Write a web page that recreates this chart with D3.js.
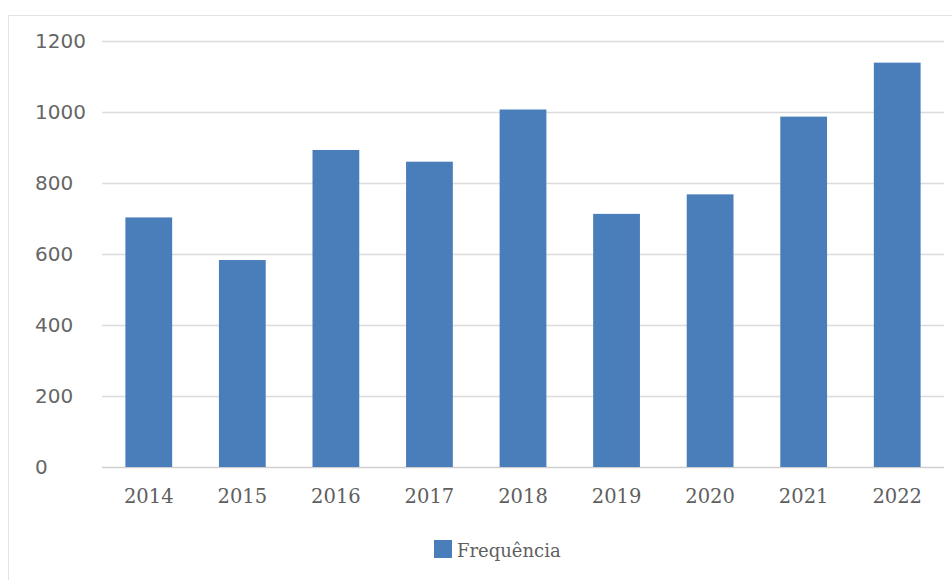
<!DOCTYPE html>
<html><head><meta charset="utf-8">
<script src="https://cdn.jsdelivr.net/npm/d3@7"></script>
<style>html,body{margin:0;padding:0;background:#fff;overflow:hidden;}</style>
</head><body>
<script>
const years = ["2014","2015","2016","2017","2018","2019","2020","2021","2022"];
const values = [703, 583, 893, 860, 1007, 713, 768, 987, 1139];
const yTicks = [0, 200, 400, 600, 800, 1000, 1200];
const seriesName = "Frequência";

const W = 952, H = 580;
const svg = d3.select("body").append("svg").attr("width", W).attr("height", H).style("display", "block");

// chart frame
svg.append("rect").attr("x", 8.5).attr("y", 15.5).attr("width", W + 10).attr("height", H + 10)
  .attr("fill", "#fff").attr("stroke", "#e3e3e3").attr("stroke-width", 1);

const plotLeft = 102, plotRight = 944, plotTop = 41, plotBottom = 467;
const x = d3.scaleBand().domain(years).range([plotLeft, plotRight]).paddingInner(0.5).paddingOuter(0.25);
const y = d3.scaleLinear().domain([0, 1200]).range([plotBottom, plotTop]);

// gridlines
svg.append("g").selectAll("line").data(yTicks).join("line")
  .attr("x1", plotLeft).attr("x2", plotRight)
  .attr("y1", d => Math.round(y(d)) + 0.5).attr("y2", d => Math.round(y(d)) + 0.5)
  .attr("stroke", d => d === 0 ? "#cfcfcf" : "#dcdcdc").attr("stroke-width", 1.5);

// y labels
svg.append("g").selectAll("text").data(yTicks).join("text")
  .attr("x", 35).attr("y", d => y(d) + 7)
  .attr("font-family", "DejaVu Sans").attr("font-size", 20)
  .attr("fill", "#666666").text(d => d);

// bars
svg.append("g").selectAll("rect").data(values).join("rect")
  .attr("x", (d, i) => x(years[i])).attr("width", x.bandwidth())
  .attr("y", d => y(d)).attr("height", d => y(0) - y(d))
  .attr("fill", "#4a7ebb");

// x labels
svg.append("g").selectAll("text").data(years).join("text")
  .attr("x", d => x(d) + x.bandwidth() / 2).attr("y", 503)
  .attr("text-anchor", "middle")
  .attr("font-family", "DejaVu Serif").attr("font-size", 19.5)
  .attr("fill", "#5f5f5f").text(d => d);

// legend
svg.append("rect").attr("x", 434).attr("y", 540).attr("width", 18).attr("height", 18).attr("fill", "#4a7ebb");
svg.append("text").attr("x", 457).attr("y", 557)
  .attr("font-family", "DejaVu Serif").attr("font-size", 18)
  .attr("fill", "#5f5f5f").text(seriesName);
</script>
</body></html>
